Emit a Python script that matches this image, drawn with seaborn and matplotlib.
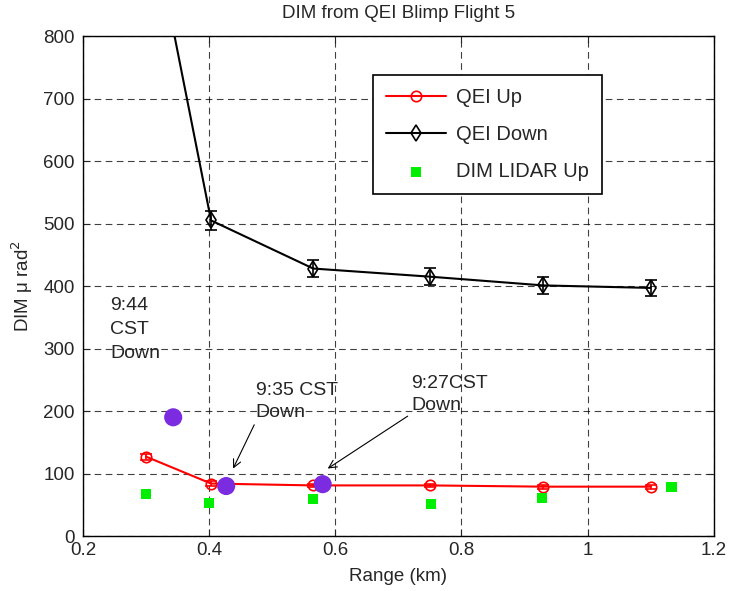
import numpy as np
import pandas as pd
import seaborn as sns
import matplotlib.pyplot as plt

# QEI values
up_range = [0.30, 0.403, 0.565, 0.750, 0.930, 1.100]
up_dim = [127, 84, 81, 81, 79, 79]
up_err = [5, 4, 3, 3, 3, 3]

down_range = [0.30, 0.403, 0.565, 0.750, 0.930, 1.100]
down_dim = [1030, 505, 428, 415, 401, 397]
down_err = [15, 15, 14, 14, 13, 13]

lidar_range = [0.30, 0.40, 0.565, 0.752, 0.928, 1.133]
lidar_dim = [67, 53, 59, 51, 61, 78]

down_pt_range = [0.343, 0.427, 0.580]
down_pt_dim = [190, 80, 83]


def main():
    sns.set_style("ticks")
    plt.rcParams['font.family'] = ['Liberation Sans', 'DejaVu Sans']
    plt.rcParams['xtick.direction'] = 'in'
    plt.rcParams['ytick.direction'] = 'in'

    fig = plt.figure(figsize=(7.3, 5.91), dpi=100)
    ax = fig.add_axes([0.1137, 0.093, 0.864, 0.846])

    up = pd.DataFrame({'x': up_range, 'y': up_dim})
    down = pd.DataFrame({'x': down_range, 'y': down_dim})
    lidar = pd.DataFrame({'x': lidar_range, 'y': lidar_dim})
    pts = pd.DataFrame({'x': down_pt_range, 'y': down_pt_dim})

    ax.errorbar(up_range, up_dim, yerr=up_err, fmt='none', ecolor='red',
                elinewidth=1.2, capsize=4.5, capthick=1.2, zorder=3)
    ax.errorbar(down_range, down_dim, yerr=down_err, fmt='none', ecolor='black',
                elinewidth=1.2, capsize=4.5, capthick=1.2, zorder=3)

    sns.lineplot(data=up, x='x', y='y', ax=ax, color='red', lw=1.5,
                 marker='o', markersize=7.5, markerfacecolor='none',
                 markeredgecolor='red', markeredgewidth=1.2,
                 label='QEI Up', zorder=4, sort=False)
    sns.lineplot(data=down, x='x', y='y', ax=ax, color='black', lw=1.5,
                 marker='d', markersize=8, markerfacecolor='none',
                 markeredgecolor='black', markeredgewidth=1.2,
                 label='QEI Down', zorder=4, sort=False)
    sns.scatterplot(data=lidar, x='x', y='y', ax=ax, color='#00ee00',
                    marker='s', s=55, edgecolor='none', label='DIM LIDAR Up',
                    zorder=5)
    sns.scatterplot(data=pts, x='x', y='y', ax=ax, color='#7b2be0',
                    marker='o', s=170, edgecolor='none', zorder=6, legend=False)

    ax.set_xlim(0.2, 1.2)
    ax.set_ylim(0, 800)
    ax.set_xticks(np.arange(0.2, 1.21, 0.2))
    ax.set_xticklabels(['0.2', '0.4', '0.6', '0.8', '1', '1.2'])
    ax.set_yticks(np.arange(0, 801, 100))
    ax.tick_params(labelsize=13.5, top=True, right=True, length=5)
    ax.tick_params(axis='y', pad=6)
    ax.tick_params(axis='x', pad=4)
    ax.grid(True, color='black', linestyle=(0, (6, 4)), lw=0.8, alpha=0.75)
    for s in ax.spines.values():
        s.set_linewidth(1.0)
        s.set_color('black')

    ax.set_xlabel('Range (km)', fontsize=13.5, labelpad=7)
    ax.set_ylabel('DIM μ rad$^2$', fontsize=13.5, labelpad=6)
    ax.set_title('DIM from QEI Blimp Flight 5', fontsize=13.5, pad=13)

    ax.text(0.243, 383, '9:44\nCST\nDown', fontsize=14, va='top', ha='left',
            linespacing=1.55)
    ax.annotate('9:35 CST\nDown', xy=(0.438, 108), xytext=(0.474, 246),
                fontsize=14, va='top', ha='left', linespacing=1.4,
                arrowprops=dict(arrowstyle='->', color='black', lw=0.8,
                                shrinkA=0, shrinkB=0,
                                relpos=(0.0, 0.0)))
    ax.annotate('9:27CST\nDown', xy=(0.588, 108), xytext=(0.72, 258),
                fontsize=14, va='top', ha='left', linespacing=1.4,
                arrowprops=dict(arrowstyle='->', color='black', lw=0.8,
                                shrinkA=0, shrinkB=0,
                                relpos=(0.0, 0.0)))

    leg = ax.legend(loc='upper left', bbox_to_anchor=(0.4596, 0.922), fontsize=14.5,
                    frameon=True, fancybox=False, edgecolor='black',
                    framealpha=1, borderpad=0.65, labelspacing=0.9,
                    handlelength=3.0, handletextpad=0.5, borderaxespad=0)
    leg.get_frame().set_linewidth(1.2)

    fig.savefig('out.png', dpi=100)


if __name__ == '__main__':
    main()
